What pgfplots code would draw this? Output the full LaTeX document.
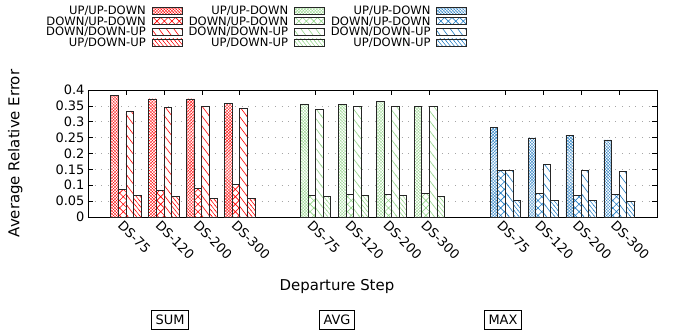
\documentclass[border=0pt]{standalone}
\usepackage{fontspec}
\setmainfont{DejaVu Sans}
\usepackage{pgfplots}
\usepackage{pgfplotstable}
\pgfplotsset{compat=1.18}
\usetikzlibrary{patterns}

\definecolor{cred}{RGB}{255,0,0}
\definecolor{cgreen}{RGB}{150,215,140}
\definecolor{cblue}{RGB}{35,125,195}

\pgfdeclarepatternformonly{xdense}{\pgfqpoint{-0.5pt}{-0.5pt}}{\pgfqpoint{3.5pt}{3.5pt}}{\pgfqpoint{3pt}{3pt}}{%
 \pgfsetlinewidth{0.26pt}%
 \pgfpathmoveto{\pgfqpoint{-0.25pt}{-0.25pt}}\pgfpathlineto{\pgfqpoint{3.25pt}{3.25pt}}%
 \pgfpathmoveto{\pgfqpoint{-0.25pt}{3.25pt}}\pgfpathlineto{\pgfqpoint{3.25pt}{-0.25pt}}%
 \pgfusepath{stroke}}
\pgfdeclarepatternformonly{xsparse}{\pgfqpoint{-0.5pt}{-0.5pt}}{\pgfqpoint{8pt}{8pt}}{\pgfqpoint{7.5pt}{7.5pt}}{%
 \pgfsetlinewidth{0.6pt}%
 \pgfpathmoveto{\pgfqpoint{-0.3pt}{-0.3pt}}\pgfpathlineto{\pgfqpoint{7.8pt}{7.8pt}}%
 \pgfpathmoveto{\pgfqpoint{-0.3pt}{7.8pt}}\pgfpathlineto{\pgfqpoint{7.8pt}{-0.3pt}}%
 \pgfusepath{stroke}}
\pgfdeclarepatternformonly{nwsparse}{\pgfqpoint{-1pt}{-1pt}}{\pgfqpoint{8.5pt}{11pt}}{\pgfqpoint{7.5pt}{10pt}}{%
 \pgfsetlinewidth{0.6pt}%
 \pgfpathmoveto{\pgfqpoint{-0.5pt}{10.667pt}}\pgfpathlineto{\pgfqpoint{8pt}{-0.667pt}}%
 \pgfusepath{stroke}}
\pgfdeclarepatternformonly{nwdense}{\pgfqpoint{-1pt}{-1pt}}{\pgfqpoint{5pt}{6pt}}{\pgfqpoint{4pt}{5pt}}{%
 \pgfsetlinewidth{0.5pt}%
 \pgfpathmoveto{\pgfqpoint{-0.4pt}{5.5pt}}\pgfpathlineto{\pgfqpoint{4.4pt}{-0.5pt}}%
 \pgfusepath{stroke}}

\pgfplotstableread{
x a b c d
0 0.382 0.087 0.334 0.069
1 0.372 0.083 0.344 0.066
2 0.372 0.091 0.348 0.059
3 0.359 0.103 0.343 0.059
}\sumtab
\pgfplotstableread{
x a b c d
5 0.356 0.068 0.340 0.065
6 0.355 0.071 0.349 0.068
7 0.364 0.071 0.349 0.068
8 0.349 0.075 0.349 0.064
}\avgtab
\pgfplotstableread{
x a b c d
10 0.281 0.148 0.148 0.053
11 0.249 0.075 0.165 0.053
12 0.257 0.067 0.148 0.053
13 0.243 0.070 0.144 0.050
}\maxtab

\pgfplotsset{
  mybar/.style={ybar, bar width=0.2, draw=black!85, line width=0.7pt,
    preaction={fill=white},
    legend image code/.code={\draw[##1] (0bp,-3.5bp) rectangle (30bp,3.5bp);}},
}

\begin{document}
\begin{tikzpicture}
\begin{axis}[
  at={(0,0)}, anchor=south west,
  scale only axis, width=569bp, height=127bp,
  xmin=-1, xmax=14, ymin=0, ymax=0.4,
  xtick={0,1,2,3,5,6,7,8,10,11,12,13},
  xticklabels={DS-75,DS-120,DS-200,DS-300,DS-75,DS-120,DS-200,DS-300,DS-75,DS-120,DS-200,DS-300},
  ytick={0,0.05,0.1,0.15,0.2,0.25,0.3,0.35,0.4},
  scaled y ticks=false,
  yticklabel style={/pgf/number format/fixed, /pgf/number format/precision=2, /pgf/number format/assume math mode=true},
  ymajorgrids, major grid style={gray!70, dash pattern=on 0.7pt off 6pt, line width=0.6pt},
  tick align=inside, major tick length=5bp, tick style={black, line width=0.6pt},
  axis line style={line width=0.8pt},
  tick label style={font=\fontsize{13}{13}\selectfont},
  xticklabel style={rotate=-45, anchor=north west, inner sep=0pt, xshift=0bp, yshift=-3bp},
  ylabel={Average Relative Error},
  ylabel style={font=\fontsize{15}{15}\selectfont, at={(axis description cs:-0.128,0.5)}, anchor=center},
  xlabel={Departure Step},
  xlabel style={font=\fontsize{15}{15}\selectfont, at={(axis description cs:0.4376,-0.551)}, anchor=center},
  legend columns=3,
  legend cell align=right,
  legend plot pos=right,
  legend style={draw=none, fill=none, font=\fontsize{11.6}{11.6}\selectfont,
    at={(axis description cs:-0.0738,1.661)}, anchor=north west,
    column sep=6bp, row sep=1.6pt, inner sep=0pt,
    nodes={inner sep=0pt, text height=8.6pt, text depth=0.4pt}},
]
% row 1: UP/UP-DOWN
\addplot[mybar, bar shift=-0.3, pattern=xdense, pattern color=cred] table[x=x,y=a]{\sumtab};
\addlegendentry{UP/UP-DOWN}
\addplot[mybar, bar shift=-0.3, pattern=xdense, pattern color=cgreen] table[x=x,y=a]{\avgtab};
\addlegendentry{UP/UP-DOWN}
\addplot[mybar, bar shift=-0.3, pattern=xdense, pattern color=cblue] table[x=x,y=a]{\maxtab};
\addlegendentry{UP/UP-DOWN}
% row 2: DOWN/UP-DOWN
\addplot[mybar, bar shift=-0.1, pattern=xsparse, pattern color=cred] table[x=x,y=b]{\sumtab};
\addlegendentry{DOWN/UP-DOWN}
\addplot[mybar, bar shift=-0.1, pattern=xsparse, pattern color=cgreen] table[x=x,y=b]{\avgtab};
\addlegendentry{DOWN/UP-DOWN}
\addplot[mybar, bar shift=-0.1, pattern=xsparse, pattern color=cblue] table[x=x,y=b]{\maxtab};
\addlegendentry{DOWN/UP-DOWN}
% row 3: DOWN/DOWN-UP
\addplot[mybar, bar shift=0.1, pattern=nwsparse, pattern color=cred] table[x=x,y=c]{\sumtab};
\addlegendentry{DOWN/DOWN-UP}
\addplot[mybar, bar shift=0.1, pattern=nwsparse, pattern color=cgreen] table[x=x,y=c]{\avgtab};
\addlegendentry{DOWN/DOWN-UP}
\addplot[mybar, bar shift=0.1, pattern=nwsparse, pattern color=cblue] table[x=x,y=c]{\maxtab};
\addlegendentry{DOWN/DOWN-UP}
% row 4: UP/DOWN-UP
\addplot[mybar, bar shift=0.3, pattern=nwdense, pattern color=cred] table[x=x,y=d]{\sumtab};
\addlegendentry{UP/DOWN-UP}
\addplot[mybar, bar shift=0.3, pattern=nwdense, pattern color=cgreen] table[x=x,y=d]{\avgtab};
\addlegendentry{UP/DOWN-UP}
\addplot[mybar, bar shift=0.3, pattern=nwdense, pattern color=cblue] table[x=x,y=d]{\maxtab};
\addlegendentry{UP/DOWN-UP}
\end{axis}
\begin{scope}[every node/.style={draw=black, line width=0.6pt, font=\fontsize{13}{13}\selectfont, inner xsep=4bp, inner ysep=4.5bp, text height=9.5bp, text depth=0bp}]
\node at (82bp,-103bp) {SUM};
\node at (249bp,-103bp) {AVG};
\node at (415bp,-103bp) {MAX};
\end{scope}
\pgfresetboundingbox
\useasboundingbox (-88bp,-118bp) rectangle (587bp,217bp);
\end{tikzpicture}
\end{document}
